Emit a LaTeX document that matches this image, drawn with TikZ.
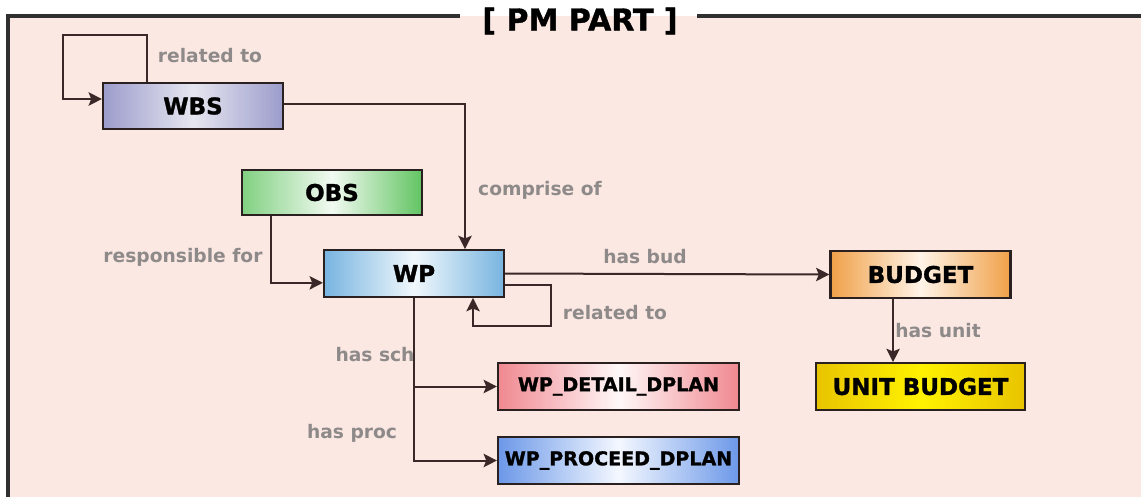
\documentclass[tikz,border=0pt]{standalone}
\usepackage{fontspec}
\setmainfont{DejaVu Sans}
\newfontfamily\heavyfont{DejaVu Sans Bold}[FakeBold=1.3]
\usetikzlibrary{arrows.meta}
\definecolor{bgpink}{HTML}{FCE8E2}
\definecolor{frameline}{HTML}{303030}
\definecolor{boxline}{HTML}{2A2020}
\definecolor{linecol}{HTML}{3A2828}
\definecolor{lblgray}{HTML}{8E8A8A}
\definecolor{wbsc}{HTML}{9C9CCC}
\definecolor{wbsm}{HTML}{E6E6F0}
\definecolor{obsc}{HTML}{62C462}
\definecolor{obsm}{HTML}{F2FAF2}
\definecolor{wpc}{HTML}{78B4E0}
\definecolor{wpm}{HTML}{F0F8FC}
\definecolor{budc}{HTML}{F0A048}
\definecolor{budm}{HTML}{FFF4E8}
\definecolor{unitc}{HTML}{E8C400}
\definecolor{unitm}{HTML}{FFF200}
\definecolor{detc}{HTML}{F08890}
\definecolor{detm}{HTML}{FFF8F8}
\definecolor{proc}{HTML}{6C98E8}
\definecolor{prom}{HTML}{F4F8FF}
\begin{document}
\begin{tikzpicture}[x=0.75pt,y=-0.75pt,
  frame/.style={draw=frameline, line width=2.6pt},
  titlefont/.style={font=\fontsize{22.5}{26}\selectfont\heavyfont},
  box/.style={draw=boxline, line width=1.6pt, inner sep=0pt, font=\fontsize{17.25}{20}\selectfont\heavyfont, text=black},
  smallbox/.style={box, font=\fontsize{14.3}{17}\selectfont\heavyfont},
  conn/.style={draw=linecol, line width=1.5pt},
  arr/.style={conn, -{Stealth[length=10pt,width=10pt,inset=2pt]}},
  lbl/.style={inner sep=0pt, text=lblgray, font=\fontsize{14}{16}\selectfont\bfseries}
]
\useasboundingbox (0,0) rectangle (1141,497);
\fill[white] (0,0) rectangle (1141,497);
\fill[bgpink] (8,16) rectangle (1141,497);
\draw[frame] (8,497) -- (8,16) -- (460,16);
\draw[frame] (697,16) -- (1141,16);
\node[titlefont, inner sep=0pt] (title) at (580,21) {[ PM PART ]};

% boxes
\node[box, minimum width=135pt, minimum height=34.5pt, left color=wbsc, right color=wbsc, middle color=wbsm] (wbs) at (193,106) {WBS};
\node[box, minimum width=135pt, minimum height=34pt, left color=obsc!80!white, right color=obsc, middle color=obsm] (obs) at (332,192.5) {OBS};
\node[box, minimum width=135pt, minimum height=35pt, left color=wpc, right color=wpc, middle color=wpm] (wp) at (414,273.5) {WP};
\node[box, minimum width=135pt, minimum height=35pt, left color=budc, right color=budc, middle color=budm] (budget) at (920.5,274.5) {BUDGET};
\node[box, minimum width=156.75pt, minimum height=35pt, left color=unitc, right color=unitc, middle color=unitm] (unit) at (920.5,386.5) {UNIT BUDGET};
\node[smallbox, minimum width=180.75pt, minimum height=35pt, left color=detc, right color=detc, middle color=detm] (detail) at (618.5,386.5) {WP\_DETAIL\_DPLAN};
\node[smallbox, minimum width=180.75pt, minimum height=35pt, left color=proc, right color=proc, middle color=prom] (proceed) at (618.5,460.5) {WP\_PROCEED\_DPLAN};

% connectors
\draw[arr] ([xshift=33.75pt]wbs.north west) |- (63,35) |- ([yshift=5.25pt]wbs.west);
\draw[arr] ([yshift=1.5pt]wbs.east) -| ([xshift=38.25pt]wp.north);
\draw[arr] ([xshift=22.5pt]obs.south west) |- ([yshift=-7pt]wp.west);
\draw[arr] (wp.east) -- (budget.west);
\draw[arr] ([yshift=-8.6pt]wp.east) -| (551,326) -| ([xshift=44.25pt]wp.south);
\draw[arr] (wp.south) |- (detail.west);
\draw[arr] (wp.south) |- (proceed.west);
\draw[arr] ([xshift=-20.6pt]budget.south) -- ([xshift=-20.6pt]budget.south |- unit.north);

% labels
\node[lbl] (l1) at (210,56) {related to};
\node[lbl] (l2) at (540,190) {comprise of};
\node[lbl] (l3) at (183,257) {responsible for};
\node[lbl] (l4) at (645,257) {has bud};
\node[lbl] (l5) at (615,313) {related to};
\node[lbl] (l6) at (375,355) {has sch};
\node[lbl] (l7) at (352,433) {has proc};
\node[lbl] (l8) at (938,331) {has unit};
\end{tikzpicture}
\end{document}
